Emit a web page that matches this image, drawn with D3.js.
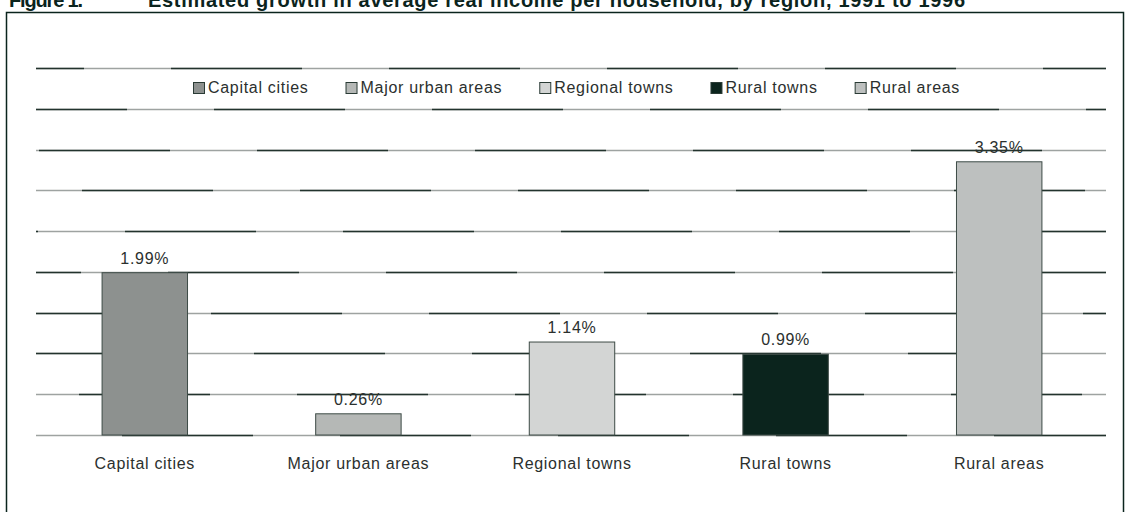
<!DOCTYPE html>
<html>
<head>
<meta charset="utf-8">
<script src="https://cdn.jsdelivr.net/npm/d3@7"></script>
<style>
    body { margin: 0; background: #fff; }
    svg { display: block; font-family: "Liberation Sans", Arial, sans-serif; }
    .title { font-weight: bold; font-size: 20px; fill: #0b241d; }
    .lbl { font-size: 16px; fill: #2b302e; letter-spacing: 0.7px; }
</style>
</head>
<body>
<svg id="chart"></svg>
<script>
// chart data
const regions = ["Capital cities", "Major urban areas", "Regional towns", "Rural towns", "Rural areas"];
const growth = [1.99, 0.26, 1.14, 0.99, 3.35];
const valueLabels = ["1.99%", "0.26%", "1.14%", "0.99%", "3.35%"];
const gridTicks = [0, 0.5, 1, 1.5, 2, 2.5, 3, 3.5, 4, 4.5];
const barColours = ["#8d918f", "#b5b8b6", "#d3d5d4", "#0b241d", "#bdc0bf"];

const wtot = 1126, htot = 512;
var margin = { top: 68, right: 20, bottom: 77, left: 38 };

const svg = d3.select("#chart")
    .attr("width", wtot)
    .attr("height", htot);

// title, cut off at the top like the scan
svg.append("text")
    .attr("class", "title")
    .attr("x", 9)
    .attr("y", 7)
    .attr("textLength", 74)
    .text("Figure 1.");
svg.append("text")
    .attr("class", "title")
    .attr("x", 148)
    .attr("y", 7)
    .attr("textLength", 817)
    .text("Estimated growth in average real income per household, by region, 1991 to 1996");

// frame
svg.append("rect")
    .attr("x", 6.5)
    .attr("y", 12.5)
    .attr("width", 1117)
    .attr("height", 520)
    .attr("fill", "none")
    .attr("stroke", "#0b241d")
    .attr("stroke-width", 1.5);

const x = d3.scaleBand()
    .domain(regions)
    .range([margin.left, 1106])
    .paddingInner(0.6)
    .paddingOuter(0.3);

const y = d3.scaleLinear()
    .domain([0, 4.5])
    .range([htot - margin.bottom, margin.top]);

// gridlines: grey base with dark segments (scan look)
const grid = svg.append("g");
grid.selectAll("line.base")
    .data(gridTicks)
    .join("line")
    .attr("class", "base")
    .attr("x1", margin.left - 2)
    .attr("x2", 1106)
    .attr("y1", d => Math.round(y(d)) + 0.5)
    .attr("y2", d => Math.round(y(d)) + 0.5)
    .attr("stroke", "#9ea3a1")
    .attr("stroke-width", 1.5);
grid.selectAll("line.dark")
    .data(gridTicks)
    .join("line")
    .attr("class", "dark")
    .attr("x1", margin.left - 2)
    .attr("x2", 1106)
    .attr("y1", d => Math.round(y(d)) + 0.5)
    .attr("y2", d => Math.round(y(d)) + 0.5)
    .attr("stroke", "#22332d")
    .attr("stroke-width", 1.6)
    .attr("stroke-dasharray", "131 87")
    .attr("stroke-dashoffset", (d, i) => {
        const row = gridTicks.length - 1 - i;
        return (((83 - 43 * row) % 218) + 218) % 218;
    });

// bars
svg.append("g")
    .selectAll("rect")
    .data(regions)
    .join("rect")
    .attr("x", d => x(d))
    .attr("width", x.bandwidth())
    .attr("y", (d, i) => y(growth[i]))
    .attr("height", (d, i) => y(0) - y(growth[i]))
    .attr("fill", (d, i) => barColours[i])
    .attr("stroke", "#3d4b46")
    .attr("stroke-width", 1);

// value labels
svg.append("g")
    .selectAll("text")
    .data(regions)
    .join("text")
    .attr("class", "lbl")
    .attr("x", d => x(d) + x.bandwidth() / 2)
    .attr("y", (d, i) => y(growth[i]) - 9)
    .attr("text-anchor", "middle")
    .text((d, i) => valueLabels[i]);

// category axis labels
svg.append("g")
    .selectAll("text")
    .data(regions)
    .join("text")
    .attr("class", "lbl")
    .attr("x", d => x(d) + x.bandwidth() / 2)
    .attr("y", y(0) + 34)
    .attr("text-anchor", "middle")
    .text(d => d);

// legend
const legend = svg.append("g");
let lx = 193;
regions.forEach((r, i) => {
    legend.append("rect")
        .attr("x", lx + 0.5)
        .attr("y", 82.5)
        .attr("width", 11)
        .attr("height", 11)
        .attr("fill", barColours[i])
        .attr("stroke", "#2a3b35")
        .attr("stroke-width", 1);
    const t = legend.append("text")
        .attr("class", "lbl")
        .attr("x", lx + 15)
        .attr("y", 93)
        .text(r);
    lx += 15 + t.node().getComputedTextLength() + 37;
});
</script>
</body>
</html>
